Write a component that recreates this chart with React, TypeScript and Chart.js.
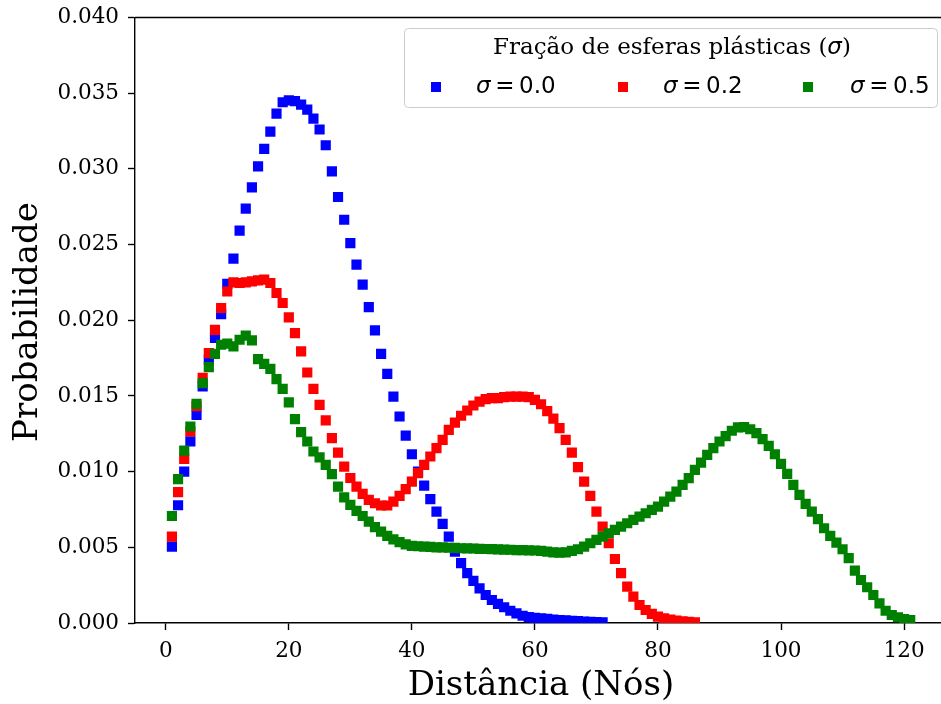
import React, { useEffect, useRef } from "react";
import { Chart, registerables } from "chart.js";

Chart.register(...registerables);

// Probability of each node distance, for three fractions of plastic spheres
const sigmaLabels = ["0.0", "0.2", "0.5"];
const seriesColors = ["#0000ff", "#ff0000", "#008000"];

const probSigma00 = [
  0.00505, 0.00778, 0.0100, 0.0120, 0.01375, 0.01563, 0.0174, 0.01884, 0.0204, 0.0224,
  0.02407, 0.02592, 0.02737, 0.02878, 0.03017, 0.03132, 0.03246, 0.03365, 0.0344, 0.03453,
  0.03447, 0.03425, 0.03392, 0.03332, 0.0326, 0.03156, 0.02984, 0.02814, 0.02664, 0.0251,
  0.02367, 0.02235, 0.02087, 0.01933, 0.01778, 0.01646, 0.01496, 0.01364, 0.01238, 0.01115,
  0.0100, 0.00908, 0.00818, 0.00736, 0.00655, 0.00571, 0.00471, 0.00395, 0.00329, 0.00278,
  0.00229, 0.00185, 0.00152, 0.00126, 0.00104, 0.00081, 0.00064, 0.00048, 0.00039, 0.00034,
  0.00031, 0.00027, 0.00023, 0.0002, 0.00017, 0.00014, 0.00012, 0.0001, 0.00008, 0.00006,
  0.00005,
];

const probSigma02 = [
  0.00571, 0.00864, 0.01084, 0.01265, 0.01432, 0.0162, 0.01783, 0.01937, 0.02081, 0.0219,
  0.0225, 0.02246, 0.0225, 0.02257, 0.02263, 0.02268, 0.02246, 0.0218, 0.02114, 0.02019,
  0.01915, 0.01794, 0.01655, 0.01547, 0.01441, 0.01338, 0.01221, 0.01126, 0.01033, 0.00958,
  0.00901, 0.00853, 0.00813, 0.00791, 0.00776, 0.00776, 0.00802, 0.0084, 0.00884, 0.00934,
  0.0099, 0.01045, 0.011, 0.01155, 0.0121, 0.01276, 0.01324, 0.01369, 0.01404, 0.01437,
  0.01463, 0.01479, 0.01486, 0.01486, 0.01492, 0.01496, 0.01496, 0.01496, 0.01492, 0.01474,
  0.01445, 0.014, 0.0135, 0.01287, 0.0121, 0.01126, 0.0103, 0.00934, 0.0084, 0.00736,
  0.00637, 0.00527, 0.00423, 0.00329, 0.0024, 0.00174, 0.00119, 0.00086, 0.0006, 0.00042,
  0.0003, 0.00022, 0.00016, 0.00011, 0.00008, 0.00005,
];

const probSigma05 = [
  0.00707, 0.0095, 0.01139, 0.01298, 0.01448, 0.01585, 0.0169, 0.01778, 0.01838, 0.01845,
  0.01827, 0.01871, 0.01898, 0.01867, 0.01743, 0.01712, 0.01679, 0.01611, 0.01547, 0.01457,
  0.01347, 0.01261, 0.01199, 0.01133, 0.01094, 0.01045, 0.00983, 0.00901, 0.0083, 0.0078,
  0.00741, 0.00707, 0.0067, 0.00633, 0.00604, 0.00575, 0.00553, 0.00534, 0.0052, 0.00509,
  0.00507, 0.00505, 0.00503, 0.005, 0.00499, 0.00497, 0.00496, 0.00494, 0.00493, 0.00492,
  0.0049, 0.00489, 0.00488, 0.00486, 0.00485, 0.00484, 0.00482, 0.00481, 0.0048, 0.00479,
  0.00477, 0.00471, 0.00466, 0.00465, 0.00467, 0.00476, 0.00487, 0.00505, 0.00527, 0.00549,
  0.00571, 0.00593, 0.00615, 0.00637, 0.00659, 0.00681, 0.00703, 0.00725, 0.00747, 0.00769,
  0.00802, 0.00835, 0.00868, 0.00912, 0.00957, 0.01012, 0.0106, 0.01111, 0.01155, 0.01199,
  0.01234, 0.0127, 0.01292, 0.01294, 0.0128, 0.01254, 0.01215, 0.0117, 0.01115, 0.01051,
  0.00985, 0.00912, 0.00846, 0.00787, 0.00736, 0.00686, 0.00626, 0.00575, 0.00531, 0.00487,
  0.00428, 0.00346, 0.00284, 0.00236, 0.00185, 0.0013, 0.00081, 0.00053, 0.00038, 0.00026,
  0.0002,
];

const xTickValues = [0, 20, 40, 60, 80, 100, 120];
const yTickValues = [0, 0.005, 0.01, 0.015, 0.02, 0.025, 0.03, 0.035, 0.04];

const xAxisTitle = "Distância (Nós)";
const yAxisTitle = "Probabilidade";
const legendTitleText = "Fração de esferas plásticas (";

const SERIF = '"DejaVu Serif", serif';
const SANS = '"DejaVu Sans", sans-serif';

// distance in nodes starts at 1
const toPoints = (values: number[]) => values.map((v, i) => ({ x: i + 1, y: v }));

// keep tick labels from pushing the plot area inwards
const clearScalePadding = (s: any) => {
  s.paddingTop = 0;
  s.paddingBottom = 0;
  s.paddingLeft = 0;
  s.paddingRight = 0;
};

const decorations = {
  id: "decorations",
  afterDraw(chart: any) {
    const { ctx, chartArea } = chart;
    ctx.save();

    // top spine
    ctx.strokeStyle = "#000";
    ctx.lineWidth = 1.4;
    ctx.beginPath();
    ctx.moveTo(chartArea.left, chartArea.top);
    ctx.lineTo(chartArea.right, chartArea.top);
    ctx.stroke();

    // axis titles
    ctx.fillStyle = "#000";
    ctx.font = `34px ${SERIF}`;
    ctx.textAlign = "center";
    ctx.textBaseline = "middle";
    ctx.fillText(xAxisTitle, 541, 686);
    ctx.save();
    ctx.translate(28, 322);
    ctx.rotate(-Math.PI / 2);
    ctx.fillText(yAxisTitle, 0, 0);
    ctx.restore();

    // legend frame
    ctx.beginPath();
    (ctx as any).roundRect(404.5, 28.5, 533, 79, 4);
    ctx.fillStyle = "rgba(255,255,255,0.8)";
    ctx.fill();
    ctx.strokeStyle = "#cccccc";
    ctx.lineWidth = 1;
    ctx.stroke();

    // legend title: serif text with an italic sigma
    const tSize = 23;
    ctx.fillStyle = "#000";
    ctx.textAlign = "left";
    ctx.font = `${tSize}px ${SERIF}`;
    const wA = ctx.measureText(legendTitleText).width;
    const wC = ctx.measureText(")").width;
    ctx.font = `italic ${tSize}px ${SANS}`;
    const wB = ctx.measureText("σ").width;
    let tx = 672 - (wA + wB + wC) / 2;
    const ty = 48;
    ctx.font = `${tSize}px ${SERIF}`;
    ctx.fillText(legendTitleText, tx, ty);
    tx += wA;
    ctx.font = `italic ${tSize}px ${SANS}`;
    ctx.fillText("σ", tx, ty);
    tx += wB;
    ctx.font = `${tSize}px ${SERIF}`;
    ctx.fillText(")", tx, ty);

    // legend entries
    const markerX = [436, 623, 808];
    const textX = [476, 663, 850];
    const ey = 87;
    const eSize = 23;
    sigmaLabels.forEach((lab, i) => {
      ctx.fillStyle = seriesColors[i];
      ctx.fillRect(markerX[i] - 5, ey - 5, 10, 10);
      ctx.fillStyle = "#000";
      let x = textX[i];
      ctx.font = `italic ${eSize}px ${SANS}`;
      ctx.fillText("σ", x, ey);
      x += ctx.measureText("σ").width + 0.2 * eSize;
      ctx.font = `${eSize}px ${SANS}`;
      ctx.fillText("=", x, ey);
      x += ctx.measureText("=").width + 0.2 * eSize;
      ctx.fillText(lab, x, ey);
    });

    ctx.restore();
  },
};

export default function App() {
  const canvasRef = useRef<HTMLCanvasElement | null>(null);

  useEffect(() => {
    if (!canvasRef.current) return;
    const series = [probSigma00, probSigma02, probSigma05];
    const chart = new Chart(canvasRef.current, {
      type: "scatter",
      data: {
        datasets: series.map((vals, i) => ({
          label: "σ = " + sigmaLabels[i],
          data: toPoints(vals),
          backgroundColor: seriesColors[i],
          borderWidth: 0,
          pointStyle: "rect",
          pointRadius: 7.2,
          pointHoverRadius: 7.2,
          showLine: false,
          clip: 0,
          order: series.length - i,
        })),
      },
      options: {
        responsive: false,
        animation: false,
        events: [],
        layout: { autoPadding: false, padding: { top: 17.5, right: 0, left: 0, bottom: 0 } },
        plugins: {
          legend: { display: false },
          tooltip: { enabled: false },
        },
        scales: {
          x: {
            type: "linear",
            min: -5,
            max: 126,
            afterFit: (s: any) => {
              s.height = 81;
              clearScalePadding(s);
            },
            afterBuildTicks: (s: any) => {
              s.ticks = xTickValues.map((v) => ({ value: v }));
            },
            grid: {
              drawOnChartArea: false,
              drawTicks: true,
              tickLength: 7,
              tickWidth: 1.4,
              tickColor: "#000",
            },
            border: { display: true, color: "#000", width: 1.4 },
            ticks: {
              color: "#000",
              padding: 9,
              maxRotation: 0,
              font: { family: SERIF, size: 21.5 },
              callback: (v: any) => String(v),
            },
          },
          y: {
            type: "linear",
            min: 0,
            max: 0.04,
            afterFit: (s: any) => {
              s.width = 135;
              clearScalePadding(s);
            },
            afterBuildTicks: (s: any) => {
              s.ticks = yTickValues.map((v) => ({ value: v }));
            },
            grid: {
              drawOnChartArea: false,
              drawTicks: true,
              tickLength: 7,
              tickWidth: 1.4,
              tickColor: "#000",
            },
            border: { display: true, color: "#000", width: 1.4 },
            ticks: {
              color: "#000",
              padding: 9,
              font: { family: SERIF, size: 21.5 },
              callback: (v: any) => Number(v).toFixed(3),
            },
          },
        },
      },
      plugins: [decorations],
    });
    return () => chart.destroy();
  }, []);

  return (
    <div style={{ position: "fixed", left: 0, top: 0, width: 941, height: 704, background: "#fff" }}>
      <canvas ref={canvasRef} width={941} height={704} />
    </div>
  );
}
